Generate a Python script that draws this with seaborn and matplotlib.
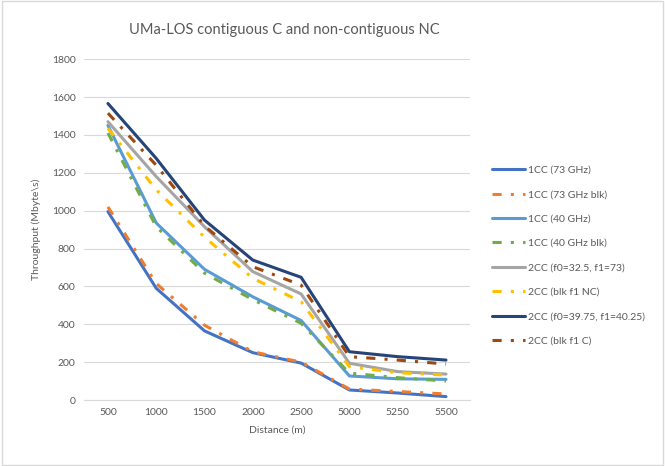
import pandas as pd
import seaborn as sns
import matplotlib.pyplot as plt
from matplotlib.patches import Rectangle

distances = ["500", "1000", "1500", "2000", "2500", "5000", "5250", "5500"]

cc1_73 = [995, 590, 365, 250, 195, 53, 37, 18]
cc1_73_blk = [1020, 615, 395, 255, 200, 58, 45, 32]
cc1_40 = [1450, 935, 690, 545, 420, 127, 112, 109]
cc1_40_blk = [1410, 915, 670, 530, 405, 142, 118, 100]
cc2_325_73 = [1470, 1180, 915, 678, 560, 194, 150, 137]
cc2_blk_nc = [1435, 1110, 860, 643, 519, 176, 144, 132]
cc2_3975_4025 = [1566, 1276, 950, 739, 648, 255, 229, 211]
cc2_blk_c = [1515, 1240, 920, 704, 607, 229, 211, 190]

series = {
    "1CC (73 GHz)": cc1_73,
    "1CC (73 GHz blk)": cc1_73_blk,
    "1CC (40 GHz)": cc1_40,
    "1CC (40 GHz blk)": cc1_40_blk,
    "2CC (f0=32.5, f1=73)": cc2_325_73,
    "2CC (blk f1 NC)": cc2_blk_nc,
    "2CC (f0=39.75, f1=40.25)": cc2_3975_4025,
    "2CC (blk f1 C)": cc2_blk_c,
}
colors = ["#4472C4", "#ED7D31", "#5B9BD5", "#70AD47",
          "#A5A5A5", "#FFC000", "#264478", "#9E480E"]

rows = []
for name, vals in series.items():
    for i, v in enumerate(vals):
        rows.append({"series": name, "pos": i, "throughput": v})
df = pd.DataFrame(rows)

sns.set_style("white")
plt.rcParams["font.family"] = ["Lato", "DejaVu Sans"]

fig = plt.figure(figsize=(6.65, 4.66), dpi=100)
ax = fig.add_axes([0.126, 0.1416, 0.581, 0.7314])

dash = (0, (3, 3, 1, 3))
for k, (name, color) in enumerate(zip(series.keys(), colors)):
    sub = df[df["series"] == name]
    sns.lineplot(data=sub, x="pos", y="throughput", ax=ax, color=color,
                 linewidth=2.2, label=name, sort=False,
                 linestyle="-" if k % 2 == 0 else dash)

ax.set_xlim(-0.5, 7.5)
ax.set_ylim(0, 1800)
ax.set_xticks(range(len(distances)))
ax.set_xticklabels(distances)
ax.set_yticks(range(0, 1801, 200))
ax.tick_params(axis="both", length=0, labelsize=7.5, colors="#595959", pad=6)
ax.yaxis.grid(True, color="#D9D9D9", linewidth=0.8)
ax.set_axisbelow(True)
for s in ["top", "right", "left"]:
    ax.spines[s].set_visible(False)
ax.spines["bottom"].set_color("#D9D9D9")

ax.set_xlabel("Distance (m)", fontsize=7.5, color="#595959", labelpad=6)
ax.set_ylabel("Throughput (Mbyte\\s)", fontsize=7.5, color="#595959", labelpad=8)

fig.suptitle("UMa-LOS contiguous C and non-contiguous NC", fontsize=10.5,
             color="#595959", x=0.427, y=0.95)

ax.legend(loc="upper left", bbox_to_anchor=(0.725, 0.665),
          bbox_transform=fig.transFigure, frameon=False, fontsize=7.5,
          handlelength=3.2, labelspacing=1.45, handletextpad=0.3,
          labelcolor="#595959")

fig.patches.append(Rectangle((0.003, 0.003), 0.994, 0.994, transform=fig.transFigure,
                             fill=False, edgecolor="#D9D9D9", linewidth=1))

fig.savefig("out.png", dpi=100)
